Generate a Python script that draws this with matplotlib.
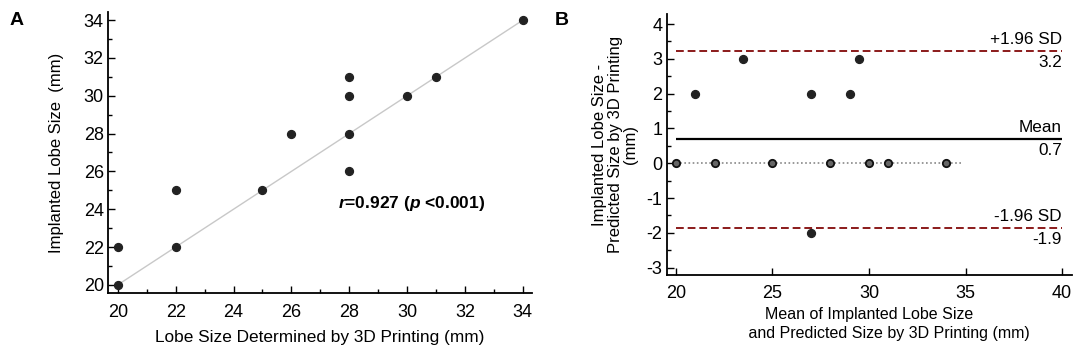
import matplotlib

matplotlib.use("Agg")
import matplotlib.pyplot as plt
from matplotlib.ticker import MultipleLocator

plt.rcParams["font.family"] = ["Liberation Sans", "DejaVu Sans"]
plt.rcParams["font.size"] = 11
plt.rcParams["axes.unicode_minus"] = False
plt.rcParams["mathtext.fontset"] = "custom"
plt.rcParams["mathtext.it"] = "Liberation Sans:italic:bold"
plt.rcParams["mathtext.rm"] = "Liberation Sans:bold"

# panel A: predicted (3D printing) vs implanted lobe size
predicted = [20, 20, 22, 22, 25, 26, 28, 28, 28, 28, 30, 31, 34]
implanted = [20, 22, 22, 25, 25, 28, 26, 28, 30, 31, 30, 31, 34]

# panel B: Bland-Altman
ba_mean = [20, 21, 22, 23.5, 25, 27, 27, 28, 29, 29.5, 30, 31, 34]
ba_diff = [0, 2, 0, 3, 0, 2, -2, 0, 2, 3, 0, 0, 0]
mean_diff = 0.69
upper_loa = 3.22
lower_loa = -1.86
loa_labels = [("+1.96 SD", "3.2"), ("Mean", "0.7"), ("-1.96 SD", "-1.9")]

fig = plt.figure(figsize=(10.84, 3.49), dpi=100)
axA = fig.add_axes([0.0996, 0.160, 0.391, 0.805])
axB = fig.add_axes([0.615, 0.212, 0.374, 0.748])


def style(ax):
    for s in ("top", "right"):
        ax.spines[s].set_visible(False)
    for s in ("left", "bottom"):
        ax.spines[s].set_linewidth(1.3)
    ax.tick_params(which="both", direction="in", width=1.0, labelsize=13)
    ax.tick_params(which="major", length=5, pad=3)
    ax.tick_params(which="minor", length=3)


# ---- A ----
style(axA)
axA.tick_params(axis="x", pad=8)
axA.plot([min(predicted), max(predicted)], [min(predicted), max(predicted)],
         color="#c8c8c8", lw=1.0, zorder=1)
axA.scatter(predicted, implanted, s=32, color="#222222", zorder=3)
axA.set_xlim(19.66, 34.31)
axA.set_ylim(19.56, 34.42)
axA.xaxis.set_major_locator(MultipleLocator(2))
axA.xaxis.set_minor_locator(MultipleLocator(1))
axA.yaxis.set_major_locator(MultipleLocator(2))
axA.yaxis.set_minor_locator(MultipleLocator(1))
axA.set_xlabel("Lobe Size Determined by 3D Printing (mm)", fontsize=12.4, labelpad=6)
axA.set_ylabel("Implanted Lobe Size  (mm)", fontsize=12, labelpad=14)
axA.text(27.6, 24.3, r"$r$=0.927 ($p$ <0.001)",
         fontsize=12.5, fontweight="bold", va="center", ha="left")

# ---- B ----
style(axB)
axB.tick_params(axis="x", pad=7)
axB.plot([20, 34.8], [0, 0], color="#888888", lw=1.2, ls=(0, (1, 1.5)), zorder=1)
axB.hlines([upper_loa, lower_loa], 20, 40, color="#8b1a1a", lw=1.4, ls=(0, (4, 2)))
axB.hlines(mean_diff, 20, 40, color="black", lw=1.6)
zero = [d == 0 for d in ba_diff]
axB.scatter([m for m, z in zip(ba_mean, zero) if not z],
            [d for d, z in zip(ba_diff, zero) if not z], s=32, color="#222222", zorder=3)
axB.scatter([m for m, z in zip(ba_mean, zero) if z],
            [d for d, z in zip(ba_diff, zero) if z], s=28, facecolor="#666666",
            edgecolor="#111111", linewidths=1.3, zorder=3)
axB.set_xlim(19.52, 40.52)
axB.set_ylim(-3.21, 4.29)
axB.xaxis.set_major_locator(MultipleLocator(5))
axB.yaxis.set_major_locator(MultipleLocator(1))
axB.yaxis.set_minor_locator(MultipleLocator(0.5))
for yv, (top, bot) in zip([upper_loa, mean_diff, lower_loa], loa_labels):
    axB.text(40, yv + 0.12, top, ha="right", va="bottom", fontsize=12.3)
    axB.text(40, yv - 0.12, bot, ha="right", va="top", fontsize=12.3)
axB.set_xlabel("Mean of Implanted Lobe Size\n         and Predicted Size by 3D Printing (mm)",
               fontsize=11.5, labelpad=4, linespacing=1.35)
axB.set_ylabel("Implanted Lobe Size -\nPredicted Size by 3D Printing\n(mm)",
               fontsize=12, labelpad=6, linespacing=1.05)

fig.text(0.009, 0.965, "A", fontsize=14, fontweight="bold", va="top")
fig.text(0.512, 0.965, "B", fontsize=14, fontweight="bold", va="top")

fig.savefig("out.png", dpi=100)
